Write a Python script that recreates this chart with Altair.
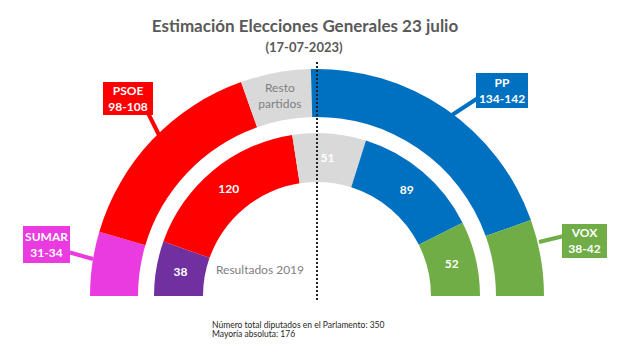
import math
import altair as alt
import pandas as pd

# ---------------- data ----------------
title_lines = ["Estimación Elecciones Generales 23 julio", "(17-07-2023)"]
footer_lines = ["Número total diputados en el Parlamento: 350", "Mayoría absoluta: 176"]
inner_caption = ["Resultados 2019"]

est_parties = ["SUMAR", "PSOE", "Resto partidos", "PP", "VOX"]
est_ranges = ["31-34", "98-108", "", "134-142", "38-42"]
est_seats = [32, 105, 35, 140, 38]

res_parties = ["UP", "PSOE", "Resto partidos", "PP", "VOX"]
res_seats = [38, 120, 51, 89, 52]

total_seats = 350

party_colors = {
    "SUMAR": "#E93BE0",
    "UP": "#7030A0",
    "PSOE": "#FF0000",
    "Resto partidos": "#D9D9D9",
    "PP": "#0070C0",
    "VOX": "#70AD47",
}

# ---------------- layout / style ----------------
FONT = "Lato"
CX, CY = 317, 296
OUT_R, OUT_R2 = 227, 179
IN_R, IN_R2 = 163, 114
LINE_H = 16

rows = []
for i, (p, r, s) in enumerate(zip(est_parties, est_ranges, est_seats)):
    rows.append({"ring": "2023", "party": p, "range": r, "seats": s, "order": i})
for i, (p, s) in enumerate(zip(res_parties, res_seats)):
    rows.append({"ring": "2019", "party": p, "range": "", "seats": s, "order": i})
df = pd.DataFrame(rows)

theta_scale = alt.Scale(domain=[0, total_seats], range=[-math.pi / 2, math.pi / 2])
color_scale = alt.Scale(domain=list(party_colors.keys()), range=list(party_colors.values()))

base = (
    alt.Chart(df)
    .transform_stack(stack="seats", groupby=["ring"], sort=[alt.SortField("order")], as_=["s0", "s1"])
    .transform_calculate(mid="(datum.s0 + datum.s1) / 2", label="datum.party + '\\n' + datum.range")
)

cx = alt.value(CX)
cy = alt.value(CY)

outer = base.transform_filter("datum.ring == '2023'").mark_arc(radius=OUT_R, radius2=OUT_R2).encode(
    theta=alt.Theta("s0:Q", scale=theta_scale),
    theta2="s1:Q",
    color=alt.Color("party:N", scale=color_scale, legend=None),
    x=cx, y=cy,
)
inner = base.transform_filter("datum.ring == '2019'").mark_arc(radius=IN_R, radius2=IN_R2).encode(
    theta=alt.Theta("s0:Q", scale=theta_scale),
    theta2="s1:Q",
    color=alt.Color("party:N", scale=color_scale, legend=None),
    x=cx, y=cy,
)

inner_labels = base.transform_filter("datum.ring == '2019'").mark_text(
    radius=(IN_R + IN_R2) / 2, font=FONT, fontWeight="bold", fontSize=12,
    color="white", align="center", baseline="middle").encode(
    theta=alt.Theta("mid:Q", scale=theta_scale),
    text=alt.Text("seats:Q", format="d"),
    x=cx, y=cy,
)
resto_outer = base.transform_filter(
    "datum.ring == '2023' && datum.party == 'Resto partidos'"
).mark_text(radius=(OUT_R + OUT_R2) / 2, dy=-LINE_H / 2, font=FONT, fontSize=12, color="#7F7F7F",
            lineBreak=" ", lineHeight=LINE_H, align="center", baseline="middle").encode(
    theta=alt.Theta("mid:Q", scale=theta_scale),
    text="party:N",
    x=cx, y=cy,
)


def callout(party, box, tip_from, tip_to):
    x1, y1, x2, y2 = box
    d = base.transform_filter(f"datum.ring == '2023' && datum.party == '{party}'")
    col = alt.Color("party:N", scale=color_scale, legend=None)
    pointer = d.mark_rule(strokeWidth=4).encode(
        x=alt.value(tip_from[0]), y=alt.value(tip_from[1]),
        x2=alt.value(tip_to[0]), y2=alt.value(tip_to[1]), color=col)
    rect = d.mark_rect().encode(
        x=alt.value(x1), x2=alt.value(x2), y=alt.value(y1), y2=alt.value(y2),
        fill=alt.Fill("party:N", scale=color_scale, legend=None))
    txt = d.mark_text(font=FONT, fontWeight="bold", fontSize=12, color="white",
                      lineBreak="\n", lineHeight=LINE_H, align="center", baseline="middle").encode(
        x=alt.value((x1 + x2) / 2), y=alt.value((y1 + y2) / 2 - LINE_H / 2), text="label:N")
    return [pointer, rect, txt]


callouts = []
callouts += callout("SUMAR", (23, 226, 70, 263), (68, 252), (93, 259))
callouts += callout("PSOE", (103, 82, 153, 115), (148, 113), (160, 137))
callouts += callout("PP", (476, 73, 528, 108), (478, 98), (452, 115))
callouts += callout("VOX", (562, 224, 607, 258), (564, 236), (539, 242))

divider = alt.Chart(pd.DataFrame({"a": [0]})).mark_rule(
    strokeDash=[2, 2], strokeWidth=2, color="#222222").encode(
    x=alt.value(CX), y=alt.value(62), y2=alt.value(301))

title1 = alt.Chart(pd.DataFrame({"t": title_lines[:1]})).mark_text(
    font=FONT, fontWeight="bold", fontSize=17, color="#595959", align="center", baseline="alphabetic").encode(
    text="t:N", x=alt.value(305), y=alt.value(32))
title2 = alt.Chart(pd.DataFrame({"t": title_lines[1:]})).mark_text(
    font=FONT, fontWeight="bold", fontSize=13, color="#595959", align="center", baseline="alphabetic").encode(
    text="t:N", x=alt.value(304), y=alt.value(52))
caption = alt.Chart(pd.DataFrame({"t": inner_caption})).mark_text(
    font=FONT, fontSize=12, color="#808080", align="center", baseline="middle").encode(
    text="t:N", x=alt.value(260), y=alt.value(270))
foot1 = alt.Chart(pd.DataFrame({"t": footer_lines[:1]})).mark_text(
    font=FONT, fontSize=8.5, color="#262626", align="left", baseline="alphabetic").encode(
    text="t:N", x=alt.value(212), y=alt.value(328))
foot2 = alt.Chart(pd.DataFrame({"t": footer_lines[1:]})).mark_text(
    font=FONT, fontSize=8.5, color="#262626", align="left", baseline="alphabetic").encode(
    text="t:N", x=alt.value(212), y=alt.value(337))

chart = alt.layer(
    outer, inner, inner_labels, resto_outer, *callouts,
    divider, title1, title2, caption, foot1, foot2,
).properties(
    width=631, height=355, padding=0, background="white",
    autosize=alt.AutoSizeParams(type="none"),
).configure_view(stroke=None)

chart.save("out.html", embed_options={"renderer": "svg", "actions": False})
